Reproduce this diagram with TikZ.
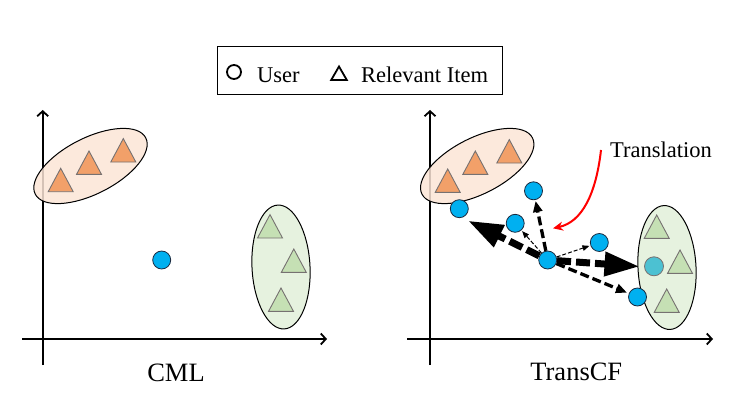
\documentclass[tikz,border=0pt]{standalone}
\usepackage{fontspec}
\setmainfont{Liberation Serif}
\usetikzlibrary{arrows.meta,shapes.geometric}
\definecolor{orangefill}{HTML}{F2A069}
\definecolor{orangebg}{HTML}{FBE5D6}
\definecolor{greenfill}{HTML}{C5E0B4}
\definecolor{greenbg}{HTML}{E2F0D9}
\definecolor{userblue}{HTML}{00B0F0}
\definecolor{tealc}{HTML}{4CC1D2}
\definecolor{trigray}{HTML}{767171}
\definecolor{userline}{HTML}{1A2A40}
\begin{document}
\begin{tikzpicture}[x=1pt,y=-1pt,
  axis/.style={line width=1.8pt,-{Straight Barb[length=5pt,width=11pt]}},
  clusterbox/.style={ellipse,draw=black,line width=1pt,inner sep=0pt,fill opacity=0.85},
  user/.style={circle,draw=userline,line width=0.8pt,fill=userblue,minimum size=18pt,inner sep=0pt},
  pics/otri/.style={code={\draw[fill=orangefill,draw=trigray,line width=0.9pt,line join=miter] (-12.5,11.7)--(0,-11.7)--(12.5,11.7)--cycle;}},
  pics/gtri/.style={code={\draw[fill=greenfill,draw=trigray,line width=0.9pt,line join=miter] (-12.5,11.7)--(0,-11.7)--(12.5,11.7)--cycle;}},
  bigfont/.style={font=\fontsize{26.5}{30}\selectfont},
  legfont/.style={font=\fontsize{22.5}{26}\selectfont},
  heavyarrow/.style={line width=7pt,dash pattern=on 14pt off 5pt,-{Triangle[length=35pt 0,width=23pt 0]}},
  midarrow/.style={line width=3.3pt,dash pattern=on 9pt off 4pt,-{Triangle[length=11pt 0,width=9pt 0]}},
  thinarrow/.style={line width=1pt,dash pattern=on 4pt off 2pt,-{Triangle[length=7pt 0,width=5.5pt 0]}}
]
\useasboundingbox (0,0) rectangle (754,401);

% legend
\node[draw,line width=0.9pt,minimum width=285pt,minimum height=48.5pt,inner sep=0pt] (legend) at (359.7,70.4) {};
\node[circle,draw=black,line width=1.8pt,fill=white,minimum size=14pt,inner sep=0pt] (legcirc) at (234,72) {};
\node[legfont,anchor=base west,inner sep=0pt] (leguser) at (257,82.3) {User};
\node[regular polygon,regular polygon sides=3,draw=black,line width=1.8pt,fill=white,minimum size=18pt,inner sep=0pt] (legtri) at (339,75.5) {};
\node[legfont,anchor=base west,inner sep=0pt] (legitem) at (361,82.3) {Relevant Item};

% ---------- left panel (CML) ----------
\draw[axis] (22,339) -- (327,339);
\draw[axis] (42.7,365) -- (42.7,110);
\node[clusterbox,fill=orangebg,minimum width=124pt,minimum height=56pt,rotate=27] (lorange) at (90.5,166) {};
\node[clusterbox,fill=greenbg,minimum width=58pt,minimum height=124pt,rotate=3] (lgreen) at (281,267) {};
\pic at (60.7,180) {otri};
\pic at (89,162.7) {otri};
\pic at (123.3,150.3) {otri};
\pic at (270,226.3) {gtri};
\pic at (293.8,260.7) {gtri};
\pic at (281,299.7) {gtri};
\node[user] (luser) at (161.7,260) {};
\node[bigfont,anchor=base,inner sep=0pt] (cml) at (176,381) {CML};

% ---------- right panel (TransCF) ----------
\draw[axis] (407,339) -- (713,339);
\draw[axis] (430,365) -- (430,110);
\node[clusterbox,fill=orangebg,minimum width=124pt,minimum height=56pt,rotate=27] (rorange) at (477.2,166) {};
\node[clusterbox,fill=greenbg,minimum width=58pt,minimum height=124pt,rotate=3] (rgreen) at (667,267.5) {};
\pic at (447.7,180.7) {otri};
\pic at (475.3,162.7) {otri};
\pic at (509.3,151.3) {otri};
\pic at (656.7,226.7) {gtri};
\pic at (680,261.7) {gtri};
\pic at (666.7,300.7) {gtri};

\node[user] (c0) at (547.7,260) {};
\node[user] (cul) at (459.3,208.7) {};
\node[user] (ctop) at (533.5,190.8) {};
\node[user] (cmid) at (515.2,223.3) {};
\node[user] (cright) at (599.3,242.5) {};
\node[user] (clr) at (637.5,297) {};
\node[circle,draw=trigray,line width=0.8pt,fill=tealc,minimum size=19pt,inner sep=0pt] (cteal) at (654,266.3) {};

\coordinate (tipul) at (468,220.7);
\coordinate (tipteal) at (639.5,266.5);
\draw[heavyarrow] (c0) -- (tipul);
\draw[heavyarrow] (c0) -- (tipteal);
\draw[midarrow,shorten >=1pt] (c0) -- (ctop);
\draw[midarrow,shorten >=2pt] (c0) -- (clr);
\draw[thinarrow,shorten >=1pt] (c0) -- (cmid);
\draw[thinarrow,shorten >=1pt] (c0) -- (cright);

\node[legfont,anchor=base west,inner sep=0pt] (trans) at (610,157) {Translation};
\coordinate (redstart) at (601,150);
\coordinate (redend) at (553,228.3);
\draw[red,line width=2pt,-{Stealth[length=10pt,width=9pt]}] (redstart) .. controls (596,194) and (582,222) .. (redend);

\node[bigfont,anchor=base,inner sep=0pt] (transcf) at (576.3,380) {TransCF};
\end{tikzpicture}
\end{document}
